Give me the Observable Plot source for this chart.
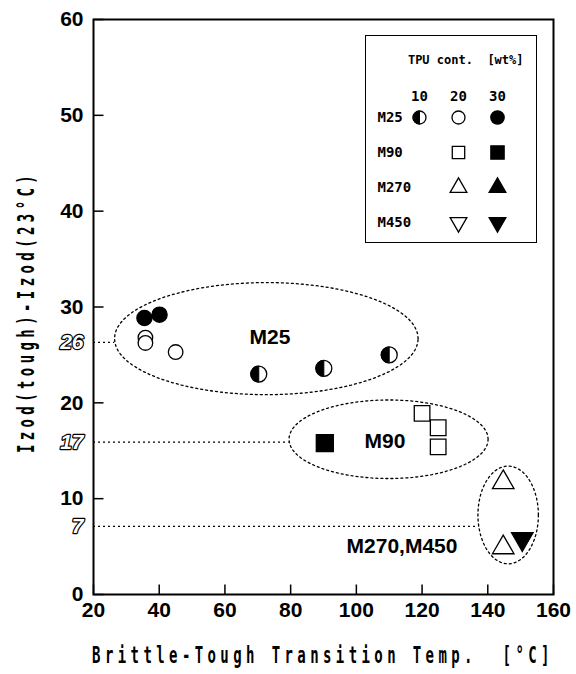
<!DOCTYPE html>
<html><head><meta charset="utf-8">
<script src="https://cdn.jsdelivr.net/npm/d3@7"></script>
<script src="https://cdn.jsdelivr.net/npm/@observablehq/plot@0.6"></script>
<style>
body{margin:0;background:#fff;}
#wrap{position:relative;width:576px;height:674px;overflow:hidden;background:#fff;}
#chart{position:absolute;left:0;top:0;}
#legend{position:absolute;left:365px;top:35px;width:172px;height:208px;box-sizing:border-box;border:1.5px solid #000;background:#fff;}
.atitle{position:absolute;font-family:'DejaVu Sans Mono',monospace;font-weight:bold;font-size:14px;white-space:pre;color:#000;line-height:1;}
#xtitle{left:323px;top:655px;letter-spacing:4.4px;transform:translate(-50%,-50%) scale(1,1.7);}
#ytitle{left:25px;top:312px;letter-spacing:4.4px;transform:translate(-50%,-50%) rotate(-90deg) scale(1,1.7);}
</style></head><body>
<div id="wrap"><div id="chart"></div><div id="legend"></div>
<div class="atitle" id="xtitle">Brittle-Tough Transition Temp.  [°C]</div>
<div class="atitle" id="ytitle">Izod(tough)-Izod(23°C)</div>
</div>
<script>
// ---- data ----
const xTicks = [20, 40, 60, 80, 100, 120, 140, 160];
const yTicks = [0, 10, 20, 30, 40, 50, 60];
const xDomain = [20, 160];
const yDomain = [0, 60];

const grades = ["M25", "M90", "M270", "M450"];
const tpuContents = ["10", "20", "30"];

// [transition temp, Izod difference]
const m25_10wt = [[70.3, 23.0], [90.1, 23.6], [110.0, 25.0]];
const m25_20wt = [[35.8, 26.8], [35.8, 26.25], [45.0, 25.3]];
const m25_30wt = [[35.5, 28.85], [40.1, 29.2]];
const m90_20wt = [[120.0, 18.9], [124.9, 17.4], [124.9, 15.4]];
const m90_30wt = [[90.4, 15.8]];
const m270_20wt = [[144.7, 11.7], [144.7, 4.9]];
const m270_30wt = [];
const m450_20wt = [];
const m450_30wt = [[150.5, 5.8]];

const groupNames = ["M25", "M90", "M270,M450"];
const groupLabelX = [73.7, 108.7, 113.9];
const groupLabelY = [26.8, 16.0, 5.0];
const ellipseCx = [72.6, 109.8, 146.2];
const ellipseCy = [26.7, 16.2, 8.3];
const ellipseRx = [46.2, 30.3, 9.2];
const ellipseRy = [5.85, 4.1, 5.1];

const refLabels = ["26", "17", "7"];
const refY = [26.3, 15.9, 7.1];
const refXEnd = [26.4, 79.5, 137.3];

// ---- layout ----
const W = 576, H = 674, mTop = 19, mRight = 23, mBottom = 80, mLeft = 93, tickLen = 10;
const frameW = W - mLeft - mRight, frameH = H - mTop - mBottom;
// tick length expressed in data units of each scale
const xTickSpan = tickLen / frameH * (yDomain[1] - yDomain[0]);
const yTickSpan = tickLen / frameW * (xDomain[1] - xDomain[0]);

// ---- symbols ----
const halfLeft = {draw(ctx, size) {
  const r = Math.sqrt(size / Math.PI);
  ctx.moveTo(0, -r); ctx.arc(0, 0, r, -Math.PI / 2, Math.PI / 2, true); ctx.closePath();
}};
const triDown = {draw(ctx, size) {
  const h = Math.sqrt(size / (Math.sqrt(3) * 3)), s = Math.sqrt(3) * h;
  ctx.moveTo(0, 2 * h); ctx.lineTo(-s, -h); ctx.lineTo(s, -h); ctx.closePath();
}};

const kinds = {
  half:        {symbol: "circle", fill: "white", overlay: halfLeft, r: 8, lr: 6.5},
  circleOpen:  {symbol: "circle", fill: "white", r: 7.3, lr: 6.5},
  circleFill:  {symbol: "circle", fill: "black", r: 7.6, lr: 6.7},
  squareOpen:  {symbol: "square", fill: "white", r: 8.8, lr: 7.0},
  squareFill:  {symbol: "square", fill: "black", r: 9.6, lr: 7.5},
  triOpen:     {symbol: "triangle", fill: "white", r: 8, lr: 6.2},
  triFill:     {symbol: "triangle", fill: "black", r: 8, lr: 6.2},
  triDownOpen: {symbol: triDown, fill: "white", r: 8, lr: 6.2},
  triDownFill: {symbol: triDown, fill: "black", r: 8, lr: 6.2}
};

const seriesDefs = [
  {grade: "M25", wt: "10", kind: "half", data: m25_10wt},
  {grade: "M25", wt: "20", kind: "circleOpen", data: m25_20wt},
  {grade: "M25", wt: "30", kind: "circleFill", data: m25_30wt},
  {grade: "M90", wt: "20", kind: "squareOpen", data: m90_20wt},
  {grade: "M90", wt: "30", kind: "squareFill", data: m90_30wt},
  {grade: "M270", wt: "20", kind: "triOpen", data: m270_20wt},
  {grade: "M270", wt: "30", kind: "triFill", data: m270_30wt},
  {grade: "M450", wt: "20", kind: "triDownOpen", data: m450_20wt},
  {grade: "M450", wt: "30", kind: "triDownFill", data: m450_30wt}
];

function symbolMarks(kindName, data, x, y, legend) {
  const k = kinds[kindName];
  const r = legend ? k.lr : k.r;
  const marks = [Plot.dot(data, {x, y, r, symbol: k.symbol, fill: k.fill, stroke: "black", strokeWidth: 1.3})];
  if (k.overlay) marks.push(Plot.dot(data, {x, y, r, symbol: k.overlay, fill: "black", stroke: "black", strokeWidth: 1}));
  return marks;
}

// ellipse outlines from their centre/radii
const ellipsePts = [];
groupNames.forEach((g, i) => {
  for (let a = 0; a <= 360; a += 4) {
    const t = a * Math.PI / 180;
    ellipsePts.push({g, x: ellipseCx[i] + ellipseRx[i] * Math.cos(t), y: ellipseCy[i] + ellipseRy[i] * Math.sin(t)});
  }
});
const refIdx = refLabels.map((_, i) => i);
const grpIdx = groupNames.map((_, i) => i);
const tickXData = xTicks.map(v => ({v}));
const tickYData = yTicks.map(v => ({v}));

const chart = Plot.plot({
  width: W, height: H,
  marginTop: mTop, marginRight: mRight, marginBottom: mBottom, marginLeft: mLeft,
  x: {domain: xDomain},
  y: {domain: yDomain},
  style: {fontFamily: "'Liberation Sans', Arial, sans-serif", fontSize: "21px", fontWeight: "bold", color: "black", background: "white"},
  marks: [
    Plot.line(ellipsePts, {x: "x", y: "y", z: "g", stroke: "black", strokeWidth: 1.3, strokeDasharray: "2,3", curve: "linear"}),
    Plot.ruleY(refIdx, {y: i => refY[i], x1: () => xDomain[0], x2: i => refXEnd[i], stroke: "black", strokeWidth: 1.3, strokeDasharray: "2,3"}),
    // inward tick marks
    Plot.link(tickXData, {x1: "v", x2: "v", y1: () => yDomain[0], y2: () => yDomain[0] + xTickSpan, stroke: "black", strokeWidth: 1.5}),
    Plot.link(tickYData, {y1: "v", y2: "v", x1: () => xDomain[0], x2: () => xDomain[0] + yTickSpan, stroke: "black", strokeWidth: 1.5}),
    ...seriesDefs.flatMap(s => symbolMarks(s.kind, s.data, d => d[0], d => d[1], false)),
    Plot.text(grpIdx, {x: i => groupLabelX[i], y: i => groupLabelY[i], text: i => groupNames[i], fontSize: 21, fontWeight: "bold", fill: "black"}),
    Plot.text(refIdx, {y: i => refY[i], text: i => refLabels[i], frameAnchor: "left", dx: -10, textAnchor: "end", fill: "white", stroke: "black", strokeWidth: 2.4, fontStyle: "italic", fontWeight: "bold", fontSize: 21}),
    // tick labels
    Plot.axisX({ticks: xTicks, tickSize: 0, tickPadding: 8, label: null, tickFormat: d => String(d)}),
    Plot.axisY({ticks: yTicks, tickSize: 0, tickPadding: 10, label: null, tickFormat: d => String(d)}),
    Plot.frame({stroke: "black", strokeWidth: 2})
  ]
});
document.getElementById("chart").append(chart);

// ---- legend ----
const legendRows = seriesDefs.map(s => ({grade: s.grade, wt: s.wt, kind: s.kind}));
const legend = Plot.plot({
  width: 169, height: 205,
  marginTop: 80, marginBottom: 18, marginLeft: 53, marginRight: 38,
  x: {type: "point", domain: tpuContents, padding: 0, axis: null},
  y: {type: "point", domain: grades, padding: 0, axis: null},
  style: {fontFamily: "'DejaVu Sans Mono', monospace", fontSize: "13px", fontWeight: "bold", color: "black", background: "white"},
  marks: [
    Plot.text(["TPU cont.  [wt%]"], {frameAnchor: "top-right", dx: 26, dy: -61, textAnchor: "end", fontSize: 12, fontWeight: "bold"}),
    Plot.text(tpuContents, {x: d => d, frameAnchor: "top", dy: -25, fontSize: 14}),
    Plot.text(grades, {y: d => d, frameAnchor: "left", dx: -42, textAnchor: "start", fontSize: 14}),
    ...legendRows.flatMap(s => symbolMarks(s.kind, [s], d => d.wt, d => d.grade, true))
  ]
});
document.getElementById("legend").append(legend);
</script>
</body></html>
